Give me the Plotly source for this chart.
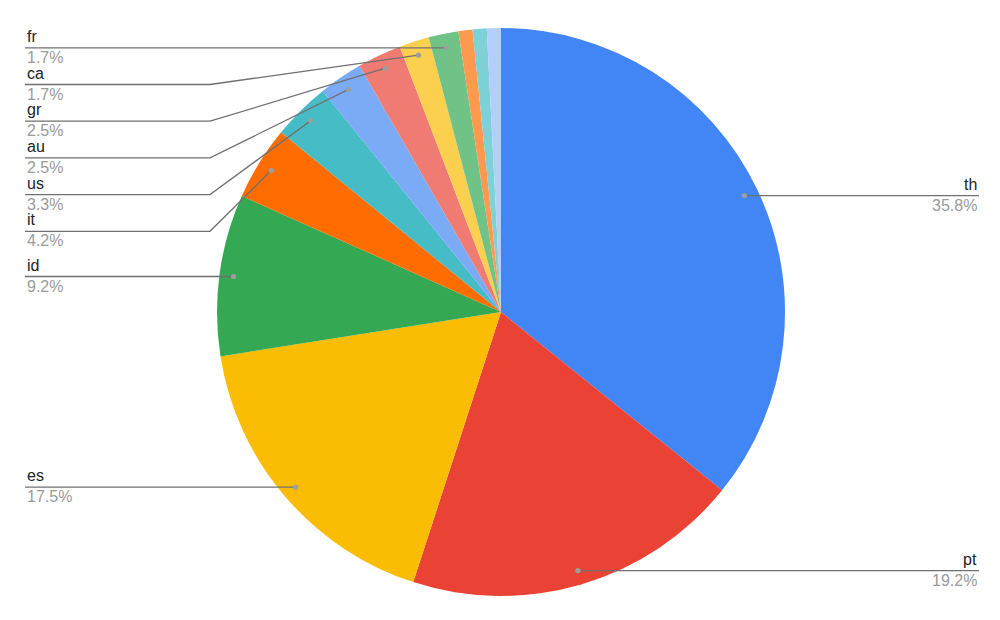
import math
import plotly.graph_objects as go

labels = ["th", "pt", "es", "id", "it", "us", "au", "gr", "ca", "fr", "other 1", "other 2", "other 3"]
values = [35.8, 19.2, 17.5, 9.2, 4.2, 3.3, 2.5, 2.5, 1.7, 1.7, 0.8, 0.8, 0.8]
colors = ["#4285F4", "#EA4335", "#FBBC04", "#34A853", "#FF6D01", "#46BDC6", "#7BAAF7",
          "#F07B72", "#FCD04F", "#71C287", "#FF994D", "#7ED1D7", "#B3CEFB"]
n_labeled = 10

W, H = 1000, 620
CX, CY, R = 501, 312, 284
DOT_R = 0.95 * R
LEFT_X, ELBOW_L, RIGHT_X, ELBOW_R = 25, 210, 979, 790
SPACING = 36.7
LINE_COLOR = "#707070"
FONT = "Arial, Liberation Sans, sans-serif"

fig = go.Figure()
fig.add_trace(go.Pie(
    labels=labels, values=values, sort=False, direction="clockwise", rotation=0,
    marker=dict(colors=colors, line=dict(width=0)),
    textinfo="none", showlegend=False,
    domain=dict(x=[(CX - R) / W, (CX + R) / W], y=[1 - (CY + R) / H, 1 - (CY - R) / H]),
))

total = sum(values)
items = []
cum = 0.0
for i, v in enumerate(values):
    mid = (cum + v / 2) / total * 2 * math.pi
    cum += v
    if i >= n_labeled:
        continue
    dx = CX + DOT_R * math.sin(mid)
    dy = CY - DOT_R * math.cos(mid)
    items.append(dict(label=labels[i], pct=f"{v / total * 100:.1f}%", dx=dx, dy=dy,
                      side="left" if dx < CX else "right"))

shapes, annotations = [], []
for side in ("left", "right"):
    group = sorted([it for it in items if it["side"] == side], key=lambda d: d["dy"])
    prev = None
    for it in group:
        ly = it["dy"] if prev is None else max(it["dy"], prev + SPACING)
        prev = ly
        if side == "left":
            if abs(ly - it["dy"]) < 1:
                path = f"M {LEFT_X},{ly} L {it['dx']},{it['dy']}"
            else:
                path = f"M {LEFT_X},{ly} L {ELBOW_L},{ly} L {it['dx']},{it['dy']}"
            tx, xa = LEFT_X, "left"
        else:
            if abs(ly - it["dy"]) < 1:
                path = f"M {it['dx']},{it['dy']} L {RIGHT_X},{ly}"
            else:
                path = f"M {it['dx']},{it['dy']} L {ELBOW_R},{ly} L {RIGHT_X},{ly}"
            tx, xa = RIGHT_X, "right"
        shapes.append(dict(type="path", path=path, xref="x", yref="y", layer="above",
                           line=dict(color=LINE_COLOR, width=1.3)))
        shapes.append(dict(type="circle", xref="x", yref="y", layer="above",
                           x0=it["dx"] - 2.6, x1=it["dx"] + 2.6, y0=it["dy"] - 2.6, y1=it["dy"] + 2.6,
                           fillcolor="#9e9e9e", line=dict(width=0)))
        annotations.append(dict(x=tx, y=ly, xref="x", yref="y", text=it["label"], showarrow=False,
                                xanchor=xa, yanchor="bottom", yshift=1,
                                font=dict(family=FONT, size=16, color="#222222")))
        annotations.append(dict(x=tx, y=ly, xref="x", yref="y", text=it["pct"], showarrow=False,
                                xanchor=xa, yanchor="top", yshift=1,
                                font=dict(family=FONT, size=16, color="#9a9a9a")))

fig.update_layout(
    width=W, height=H, margin=dict(l=0, r=0, t=0, b=0),
    paper_bgcolor="white", plot_bgcolor="rgba(0,0,0,0)",
    xaxis=dict(range=[0, W], visible=False, fixedrange=True, domain=[0, 1]),
    yaxis=dict(range=[H, 0], visible=False, fixedrange=True, domain=[0, 1]),
    shapes=shapes, annotations=annotations,
)
fig.write_html("out.html", config={"displayModeBar": False},
               post_script="document.body.style.margin='0';document.body.style.overflow='hidden';")
